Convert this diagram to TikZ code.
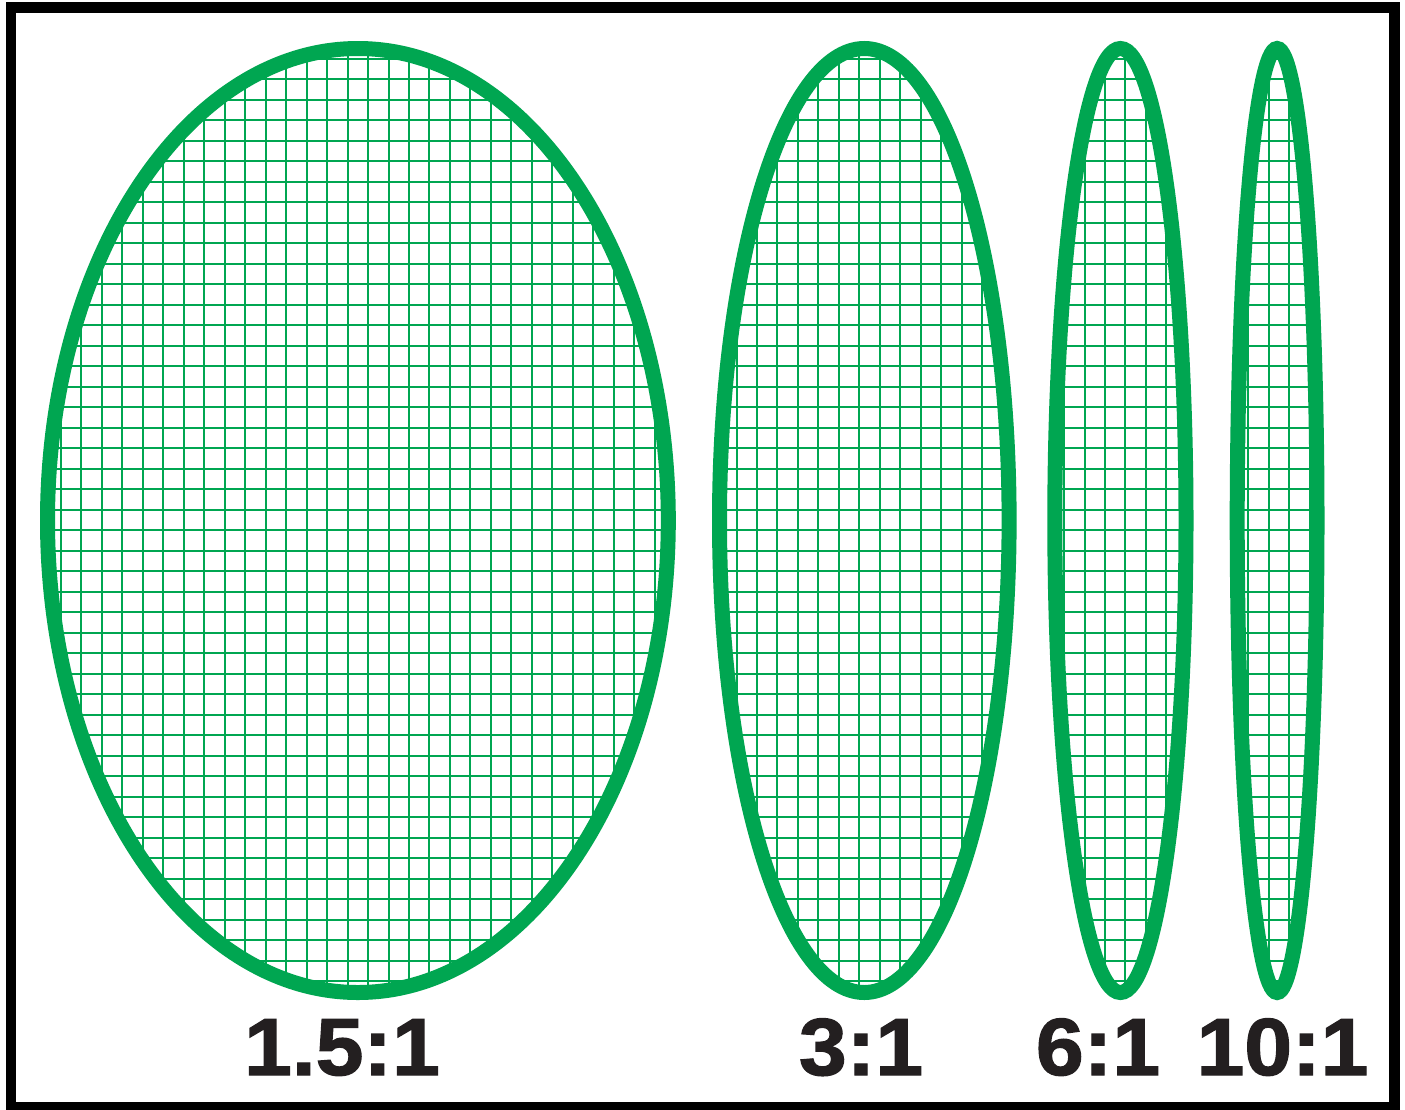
\documentclass[tikz,border=0pt]{standalone}
\usepackage{fontspec}
\setmainfont{Liberation Sans}
\newfontfamily\labelfont[FakeStretch=1.06,FakeBold=1.6]{Liberation Sans}
\definecolor{leafgreen}{HTML}{00A651}
\definecolor{inkblack}{HTML}{231F20}
\tikzset{
  outline/.style={draw=leafgreen, line width=15pt},
  gridline/.style={draw=leafgreen, line width=2pt},
  frame/.style={draw=black, line width=10.5pt},
  ratio/.style={font=\labelfont\bfseries\fontsize{81}{81}\selectfont, text=inkblack, anchor=base, inner sep=0pt}
}
\newcommand{\meshgrid}{%
  \foreach \i in {0,...,65} \draw[gridline] ({61+20.47*\i},30) -- ({61+20.47*\i},1010);
  \foreach \j in {-21,...,25} \draw[gridline] (30,{489+20.5*\j}) -- (1395,{489+20.5*\j});
}
\begin{document}
\begin{tikzpicture}[x=1pt,y=-1pt]
\useasboundingbox (0,0) rectangle (1405,1109);
\fill[white] (0,0) rectangle (1405,1109);
\draw[frame] (11,7.5) rectangle (1394.7,1107.5);
% grids
\foreach \cx/\rx in {357.9/310.4, 864.3/144.8, 1120.4/65.6, 1277.1/39.9}{
  \begin{scope}
    \clip (\cx,520.5) ellipse [x radius=\rx, y radius=472];
    \meshgrid
  \end{scope}
}
% outlines
\draw[outline] (357.9,520.5) ellipse [x radius=310.4, y radius=472];
\draw[outline] (864.3,520.5) ellipse [x radius=144.8, y radius=472];
\draw[outline] (1120.4,520.5) ellipse [x radius=65.6, y radius=472];
\draw[outline] (1277.1,520.5) ellipse [x radius=39.9, y radius=472];
% labels
\node[ratio] (l1) at (342,1075) {1.5:1};
\node[ratio] (l2) at (861,1075) {3:1};
\node[ratio] (l3) at (1098,1075) {6:1};
\node[ratio] (l4) at (1282.5,1075) {10:1};
\end{tikzpicture}
\end{document}
